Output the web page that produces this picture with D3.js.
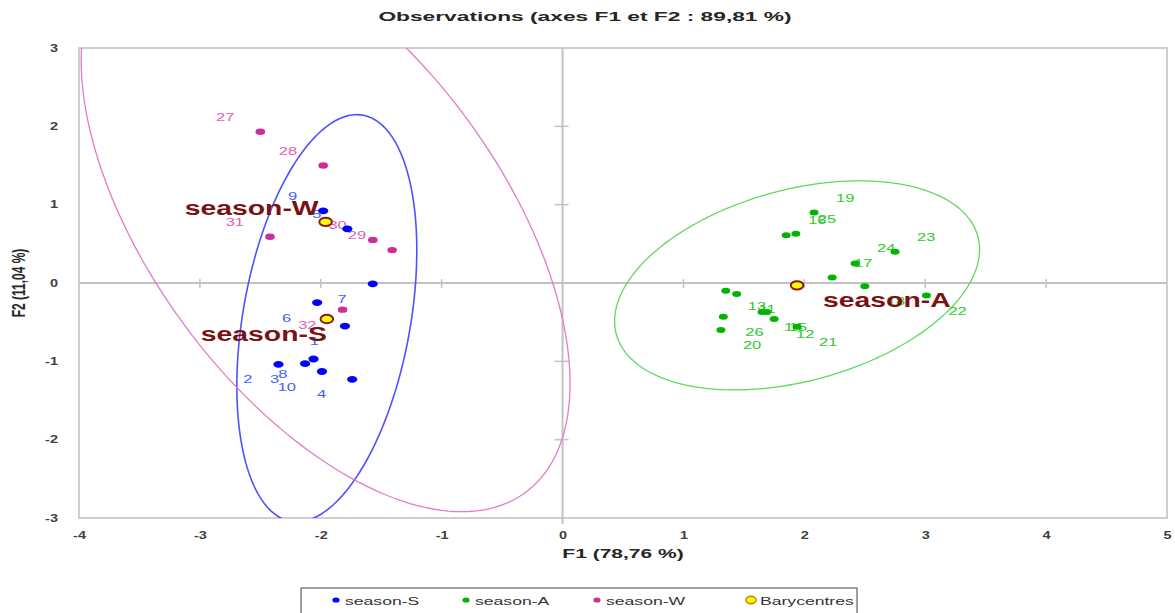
<!DOCTYPE html>
<html>
<head>
<meta charset="utf-8">
<script src="https://cdn.jsdelivr.net/npm/d3@7"></script>
<style>
  body { margin: 0; background: #fff; }
  svg { display: block; font-family: "Liberation Sans", Arial, sans-serif; }
</style>
</head>
<body>
<svg id="chart" width="1175" height="613"></svg>
<script>
// PCA observations on the F1 / F2 plane, grouped by season
const seasonS = [
  { obs: "1",  f1: -1.80, f2: -0.55 },
  { obs: "2",  f1: -2.35, f2: -1.04 },
  { obs: "3",  f1: -2.13, f2: -1.03 },
  { obs: "4",  f1: -1.74, f2: -1.23 },
  { obs: "5",  f1: -1.78, f2:  0.69 },
  { obs: "6",  f1: -2.03, f2: -0.25 },
  { obs: "7",  f1: -1.57, f2: -0.01 },
  { obs: "8",  f1: -2.06, f2: -0.97 },
  { obs: "9",  f1: -1.98, f2:  0.92 },
  { obs: "10", f1: -1.99, f2: -1.13 }
];
const seasonA = [
  { obs: "11", f1: 1.44, f2: -0.14 },
  { obs: "12", f1: 1.75, f2: -0.46 },
  { obs: "13", f1: 1.35, f2: -0.10 },
  { obs: "14", f1: 1.65, f2: -0.37 },
  { obs: "15", f1: 1.69, f2: -0.37 },
  { obs: "16", f1: 1.85, f2:  0.61 },
  { obs: "17", f1: 2.23, f2:  0.07 },
  { obs: "18", f1: 2.50, f2: -0.04 },
  { obs: "19", f1: 2.08, f2:  0.90 },
  { obs: "20", f1: 1.31, f2: -0.60 },
  { obs: "21", f1: 1.94, f2: -0.56 },
  { obs: "22", f1: 3.01, f2: -0.16 },
  { obs: "23", f1: 2.75, f2:  0.40 },
  { obs: "24", f1: 2.42, f2:  0.25 },
  { obs: "25", f1: 1.93, f2:  0.63 },
  { obs: "26", f1: 1.33, f2: -0.43 }
];
const seasonW = [
  { obs: "27", f1: -2.50, f2:  1.93 },
  { obs: "28", f1: -1.98, f2:  1.50 },
  { obs: "29", f1: -1.41, f2:  0.42 },
  { obs: "30", f1: -1.57, f2:  0.55 },
  { obs: "31", f1: -2.42, f2:  0.59 },
  { obs: "32", f1: -1.82, f2: -0.34 }
];
const barycentres = [
  { group: "season-S", f1: -1.95, f2: -0.46 },
  { group: "season-A", f1:  1.94, f2: -0.03 },
  { group: "season-W", f1: -1.96, f2:  0.78 }
];
// Confidence ellipses: centre, variance along F1 and F2, covariance
const ellipses = [
  { group: "season-S", f1: -1.95, f2: -0.45, varF1: 0.554, varF2: 6.755,  cov:  0.645 },
  { group: "season-A", f1:  1.94, f2: -0.03, varF1: 2.279, varF2: 1.781,  cov:  0.690 },
  { group: "season-W", f1: -1.96, f2:  0.78, varF1: 4.089, varF2: 13.688, cov: -4.168 }
];
const xTicks = [-4, -3, -2, -1, 0, 1, 2, 3, 4, 5];
const yTicks = [-3, -2, -1, 0, 1, 2, 3];
const legendItems = ["season-S", "season-A", "season-W", "Barycentres"];

// ---- layout & styles ----
const svg = d3.select("#chart");
const plot = { left: 79, right: 1167, top: 48, bottom: 518 };
const SX = 1.5;                       // horizontal glyph stretch used throughout
const style = {
  "season-S": { dot: "#0000ff", label: "#4060ff", ring: "#5050ff", r: 3.4 },
  "season-A": { dot: "#00b400", label: "#30c830", ring: "#60d860", r: 3.0 },
  "season-W": { dot: "#cc2f99", label: "#de5fb4", ring: "#e27cc8", r: 3.2 }
};
// observation labels drawn above their point (the others go below)
const labelAbove = new Set(["5", "9", "27", "28", "29", "30", "31", "16", "17", "19", "23", "24", "25"]);
const groupLabelOffset = {
  "season-W": { dx: -7, dy: -7, anchor: "end" },
  "season-S": { dx: 0, dy: 22, anchor: "end" },
  "season-A": { dx: 26, dy: 22, anchor: "start" }
};

const x = d3.scaleLinear().domain([-4, 5]).range([plot.left, plot.right]);
const y = d3.scaleLinear().domain([-3, 3]).range([plot.bottom, plot.top]);
const tickFmt = d => String(d);       // plain hyphen-minus

function stretch(sel, px, py, s) {
  return sel.attr("transform", `translate(${px},${py}) scale(${s},1)`);
}

// ---- title ----
stretch(svg.append("text"), 585, 21, 1.75)
  .attr("text-anchor", "middle").attr("font-size", 13).attr("font-weight", "bold")
  .attr("fill", "#262626").text("Observations (axes F1 et F2 : 89,81 %)");

// ---- plot frame ----
svg.append("rect")
  .attr("x", plot.left).attr("y", plot.top)
  .attr("width", plot.right - plot.left).attr("height", plot.bottom - plot.top)
  .attr("fill", "none").attr("stroke", "#cfcfcf").attr("stroke-width", 2);

// ---- axis tick labels (d3 axes, labels only) ----
const xAxis = svg.append("g").attr("transform", `translate(0,${plot.bottom})`)
  .call(d3.axisBottom(x).tickValues(xTicks).tickSize(0).tickPadding(14).tickFormat(tickFmt));
xAxis.select(".domain").remove();
xAxis.selectAll("text")
  .attr("font-size", 10).attr("font-weight", "bold").attr("fill", "#404040")
  .attr("font-family", "Liberation Sans, Arial, sans-serif")
  .each(function () {
    const t = d3.select(this);
    const yy = +t.attr("y");
    t.attr("y", null).attr("transform", `translate(0,${yy}) scale(1.45,1)`);
  });

const yAxis = svg.append("g").attr("transform", `translate(${plot.left},0)`)
  .call(d3.axisLeft(y).tickValues(yTicks).tickSize(0).tickPadding(21).tickFormat(tickFmt));
yAxis.select(".domain").remove();
yAxis.selectAll("text")
  .attr("font-size", 10).attr("font-weight", "bold").attr("fill", "#404040")
  .attr("font-family", "Liberation Sans, Arial, sans-serif")
  .each(function () {
    const t = d3.select(this);
    const xx = +t.attr("x");
    t.attr("x", null).attr("transform", `translate(${xx},0) scale(1.45,1)`);
  });

// ---- axis titles ----
stretch(svg.append("text"), (plot.left + plot.right) / 2, 558, 1.75)
  .attr("text-anchor", "middle").attr("font-size", 12).attr("font-weight", "bold")
  .attr("fill", "#262626").text("F1 (78,76 %)");
svg.append("text")
  .attr("transform", `translate(25,${(plot.top + plot.bottom) / 2}) scale(1.6,1) rotate(-90)`)
  .attr("text-anchor", "middle").attr("font-size", 12).attr("font-weight", "bold")
  .attr("fill", "#262626").text("F2 (11,04 %)");

// ---- zero axes with cross ticks ----
const axes0 = svg.append("g").attr("stroke", "#c2c2c2");
axes0.append("line").attr("x1", plot.left).attr("x2", plot.right)
  .attr("y1", y(0)).attr("y2", y(0)).attr("stroke-width", 2);
axes0.append("line").attr("x1", x(0)).attr("x2", x(0))
  .attr("y1", plot.top).attr("y2", plot.bottom + 6).attr("stroke-width", 2);
axes0.selectAll(".tx").data(xTicks.filter(d => d !== 0 && d > -4 && d < 5)).join("line")
  .attr("x1", d => x(d)).attr("x2", d => x(d))
  .attr("y1", y(0) - 4).attr("y2", y(0) + 5).attr("stroke-width", 1.5);
axes0.selectAll(".ty").data(yTicks.filter(d => d !== 0 && d > -3 && d < 3)).join("line")
  .attr("x1", x(0) - 8).attr("x2", x(0) + 6)
  .attr("y1", d => y(d)).attr("y2", d => y(d)).attr("stroke-width", 1.5);

// ---- clip region ----
svg.append("defs").append("clipPath").attr("id", "plotClip")
  .append("rect").attr("x", plot.left).attr("y", plot.top)
  .attr("width", plot.right - plot.left).attr("height", plot.bottom - plot.top);

// ---- confidence ellipses ----
function ellipsePath(e) {
  const l11 = Math.sqrt(e.varF1);
  const l21 = e.cov / l11;
  const l22 = Math.sqrt(e.varF2 - l21 * l21);
  const pts = d3.range(0, 361, 2).map(a => {
    const t = a * Math.PI / 180;
    return [x(e.f1 + l11 * Math.cos(t)), y(e.f2 + l21 * Math.cos(t) + l22 * Math.sin(t))];
  });
  return d3.line()(pts) + "Z";
}
svg.append("g").attr("clip-path", "url(#plotClip)")
  .selectAll("path").data(ellipses).join("path")
  .attr("d", ellipsePath)
  .attr("fill", "none")
  .attr("stroke", d => style[d.group].ring)
  .attr("stroke-width", d => d.group === "season-S" ? 1.6 : 1.3);

// ---- observations ----
const groups = [
  { name: "season-S", data: seasonS, side: "left" },
  { name: "season-A", data: seasonA, side: "right" },
  { name: "season-W", data: seasonW, side: "left" }
];
const labelLayer = svg.append("g");
const dotLayer = svg.append("g");
groups.forEach(g => {
  const st = style[g.name];
  labelLayer.selectAll(null).data(g.data).join("text")
    .attr("transform", d => {
      const px = x(d.f1) + (g.side === "left" ? -26 : 22);
      const py = y(d.f2) + (labelAbove.has(d.obs) ? -11 : 19);
      return `translate(${px},${py}) scale(1.5,1)`;
    })
    .attr("text-anchor", g.side === "left" ? "end" : "start")
    .attr("font-size", 11).attr("fill", st.label)
    .text(d => d.obs);
  dotLayer.selectAll(null).data(g.data).join("ellipse")
    .attr("cx", d => x(d.f1)).attr("cy", d => y(d.f2))
    .attr("rx", st.r * SX).attr("ry", st.r)
    .attr("fill", st.dot);
});

// ---- barycentres ----
const baryLayer = svg.append("g");
baryLayer.selectAll("text").data(barycentres).join("text")
  .attr("transform", d => {
    const o = groupLabelOffset[d.group];
    return `translate(${x(d.f1) + o.dx},${y(d.f2) + o.dy}) scale(1.35,1)`;
  })
  .attr("text-anchor", d => groupLabelOffset[d.group].anchor)
  .attr("font-size", 21).attr("font-weight", "bold").attr("fill", "#7a1212")
  .text(d => d.group);
baryLayer.selectAll("ellipse").data(barycentres).join("ellipse")
  .attr("cx", d => x(d.f1)).attr("cy", d => y(d.f2))
  .attr("rx", 6.3).attr("ry", 4.2)
  .attr("fill", "#ffff00").attr("stroke", "#8b1a1a").attr("stroke-width", 2);

// ---- legend ----
const legend = svg.append("g");
legend.append("rect").attr("x", 301).attr("y", 588).attr("width", 556).attr("height", 40)
  .attr("fill", "#fff").attr("stroke", "#404040").attr("stroke-width", 1);
const legendX = [336, 466, 597, 751];
legendItems.forEach((name, i) => {
  const cx = legendX[i];
  if (name === "Barycentres") {
    legend.append("ellipse").attr("cx", cx).attr("cy", 600).attr("rx", 5).attr("ry", 3.8)
      .attr("fill", "#ffff00").attr("stroke", "#c08000").attr("stroke-width", 1.5);
  } else {
    legend.append("ellipse").attr("cx", cx).attr("cy", 600).attr("rx", 3.6).attr("ry", 2.6)
      .attr("fill", style[name].dot);
  }
  stretch(legend.append("text"), cx + 9, 604.5, 1.6)
    .attr("font-size", 11).attr("fill", "#333").text(name);
});
</script>
</body>
</html>
